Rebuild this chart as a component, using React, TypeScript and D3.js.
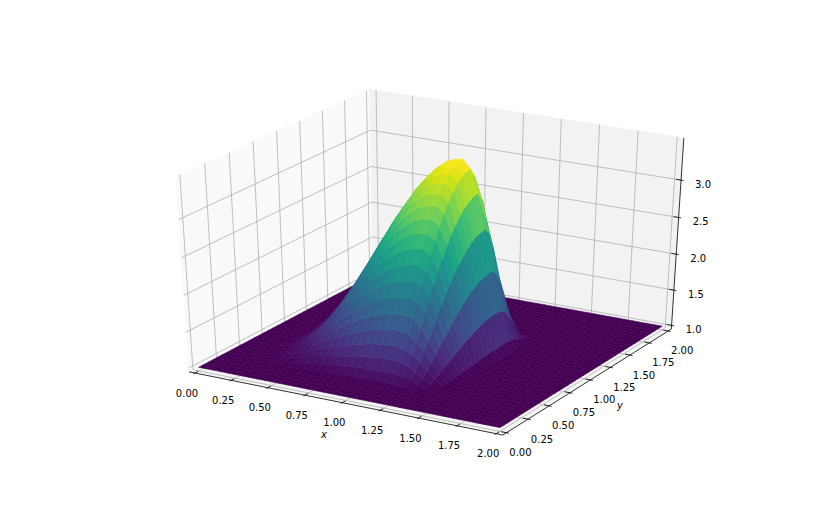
import React from "react";
import * as d3 from "d3";

// axis ticks
const xTicks = [0, 0.25, 0.5, 0.75, 1, 1.25, 1.5, 1.75, 2];
const yTicks = [0, 0.25, 0.5, 0.75, 1, 1.25, 1.5, 1.75, 2];
const zTicks = [1, 1.5, 2, 2.5, 3];

// grid: 41 x 41 nodes over [0,2] x [0,2], dx = dy = 0.05
const gridX = d3.range(41).map((i) => i * 0.05);
const gridY = d3.range(41).map((j) => j * 0.05);
const floorZ = 1;

// heights, x nodes 5..28 (one row per y node 5..28), everything else sits on the floor
const humpFirstNode = 5;
const humpRows = [
  [1.00,1.00,1.01,1.01,1.01,1.02,1.02,1.03,1.03,1.04,1.04,1.05,1.05,1.05,1.06,1.06,1.06,1.06,1.06,1.05,1.04,1.03,1.01,1.00],
  [1.00,1.01,1.02,1.03,1.04,1.05,1.06,1.08,1.09,1.10,1.12,1.13,1.14,1.15,1.16,1.16,1.16,1.17,1.16,1.14,1.11,1.07,1.03,1.01],
  [1.00,1.02,1.03,1.05,1.07,1.09,1.12,1.14,1.17,1.19,1.21,1.23,1.25,1.27,1.28,1.29,1.30,1.30,1.29,1.25,1.19,1.13,1.06,1.01],
  [1.01,1.02,1.05,1.07,1.10,1.14,1.18,1.21,1.25,1.29,1.32,1.36,1.38,1.41,1.43,1.44,1.45,1.45,1.43,1.38,1.29,1.19,1.10,1.02],
  [1.01,1.03,1.06,1.10,1.15,1.19,1.25,1.30,1.35,1.40,1.45,1.49,1.53,1.57,1.59,1.61,1.63,1.63,1.60,1.52,1.41,1.27,1.13,1.03],
  [1.01,1.04,1.08,1.13,1.19,1.25,1.32,1.38,1.45,1.52,1.58,1.64,1.69,1.73,1.77,1.79,1.81,1.81,1.78,1.68,1.53,1.35,1.17,1.03],
  [1.02,1.05,1.10,1.16,1.23,1.31,1.39,1.47,1.56,1.64,1.71,1.78,1.85,1.90,1.94,1.97,1.99,2.00,1.96,1.83,1.65,1.43,1.21,1.04],
  [1.02,1.06,1.12,1.19,1.27,1.37,1.46,1.56,1.66,1.76,1.85,1.93,2.01,2.07,2.12,2.16,2.18,2.19,2.14,1.99,1.77,1.51,1.25,1.05],
  [1.02,1.07,1.14,1.22,1.32,1.42,1.54,1.65,1.76,1.88,1.98,2.08,2.16,2.24,2.30,2.34,2.37,2.38,2.32,2.15,1.89,1.59,1.29,1.06],
  [1.02,1.08,1.16,1.25,1.36,1.48,1.61,1.74,1.87,1.99,2.11,2.22,2.32,2.40,2.47,2.52,2.55,2.56,2.49,2.30,2.01,1.67,1.33,1.07],
  [1.03,1.09,1.17,1.28,1.40,1.53,1.67,1.82,1.96,2.10,2.23,2.36,2.46,2.56,2.63,2.69,2.72,2.73,2.66,2.44,2.12,1.74,1.37,1.07],
  [1.03,1.10,1.19,1.30,1.44,1.58,1.74,1.89,2.05,2.20,2.35,2.48,2.60,2.70,2.78,2.84,2.88,2.89,2.81,2.58,2.23,1.81,1.40,1.08],
  [1.03,1.10,1.20,1.33,1.47,1.63,1.79,1.96,2.13,2.30,2.45,2.60,2.72,2.83,2.92,2.99,3.02,3.04,2.95,2.70,2.32,1.87,1.43,1.09],
  [1.03,1.11,1.22,1.35,1.50,1.67,1.84,2.02,2.20,2.38,2.54,2.69,2.83,2.95,3.04,3.11,3.15,3.16,3.07,2.80,2.40,1.93,1.46,1.09],
  [1.04,1.12,1.23,1.37,1.52,1.70,1.88,2.07,2.26,2.44,2.62,2.78,2.92,3.04,3.14,3.21,3.26,3.27,3.17,2.89,2.47,1.97,1.48,1.10],
  [1.04,1.12,1.24,1.38,1.54,1.73,1.92,2.11,2.31,2.50,2.68,2.84,2.99,3.12,3.22,3.29,3.34,3.36,3.25,2.96,2.53,2.01,1.50,1.10],
  [1.04,1.12,1.24,1.39,1.56,1.74,1.94,2.14,2.34,2.54,2.72,2.89,3.05,3.18,3.28,3.36,3.40,3.42,3.31,3.01,2.57,2.03,1.51,1.10],
  [1.04,1.13,1.25,1.40,1.57,1.76,1.96,2.16,2.36,2.56,2.75,2.92,3.08,3.21,3.32,3.39,3.44,3.46,3.35,3.05,2.59,2.05,1.52,1.11],
  [1.04,1.13,1.25,1.40,1.57,1.76,1.96,2.17,2.37,2.57,2.76,2.93,3.09,3.22,3.33,3.41,3.45,3.47,3.36,3.06,2.60,2.06,1.52,1.11],
  [1.04,1.12,1.23,1.38,1.54,1.72,1.91,2.11,2.30,2.49,2.67,2.84,2.98,3.11,3.21,3.28,3.33,3.34,3.24,2.95,2.52,2.00,1.50,1.10],
  [1.03,1.10,1.20,1.32,1.46,1.61,1.77,1.94,2.11,2.27,2.42,2.56,2.68,2.79,2.88,2.94,2.98,2.99,2.91,2.66,2.29,1.85,1.42,1.09],
  [1.02,1.07,1.15,1.24,1.34,1.45,1.57,1.69,1.82,1.93,2.05,2.15,2.24,2.32,2.38,2.43,2.46,2.47,2.41,2.22,1.95,1.63,1.31,1.06],
  [1.01,1.04,1.09,1.14,1.20,1.27,1.34,1.41,1.49,1.56,1.62,1.68,1.74,1.79,1.82,1.85,1.87,1.87,1.84,1.73,1.57,1.37,1.19,1.04],
  [1.01,1.02,1.03,1.05,1.08,1.10,1.13,1.15,1.18,1.21,1.23,1.26,1.28,1.29,1.31,1.32,1.32,1.33,1.31,1.27,1.21,1.14,1.07,1.01],
];

const zAt = (i: number, j: number) =>
  humpRows[j - humpFirstNode]?.[i - humpFirstNode] ?? floorZ;

// data -> unit box
const xNorm = d3.scaleLinear().domain([0, 2]).range([0, 1]);
const yNorm = d3.scaleLinear().domain([0, 2]).range([0, 1]);
const zNorm = d3.scaleLinear().domain([1, 3.5]).range([0, 1]);

// projected view coords -> pixels
const pxX = d3.scaleLinear().domain([-0.095, 0.09]).range([103.7, 747]);
const pxY = d3.scaleLinear().domain([-0.095, 0.09]).range([459.3, 63.4]);

// elev 30, azim -60, dist 10
const dist = 10;
const n = [0.433013, -0.75, 0.5];
const u = [0.866025, 0.5, 0];
const v = [-0.25, 0.433013, 0.866025];
const dot = (a: number[], b: number[]) => a[0] * b[0] + a[1] * b[1] + a[2] * b[2];

type P = [number, number, number];

// takes unit box coordinates
function project(p: P) {
  const c = [p[0] - 0.5, p[1] - 0.5, p[2] - 0.5];
  const w = dist - dot(n, c);
  return {
    x: pxX(dot(u, c) / w),
    y: pxY(dot(v, c) / w),
    depth: -dist / w,
  };
}

const lo = -1 / 48;
const hi = 49 / 48;
const tickIn = 0.2 / 12;
const tickOut = 0.1 / 12;

const path = (pts: P[], close = false) =>
  pts
    .map(project)
    .map((q, i) => `${i ? "L" : "M"}${q.x.toFixed(2)},${q.y.toFixed(2)}`)
    .join("") + (close ? "Z" : "");

const rawCells = d3.range(40).flatMap((j) =>
  d3.range(40).map((i) => {
    const corners: [number, number][] = [
      [i, j],
      [i + 1, j],
      [i + 1, j + 1],
      [i, j + 1],
    ];
    const pts = corners.map(
      ([a, b]) => [xNorm(gridX[a]), yNorm(gridY[b]), zNorm(zAt(a, b))] as P,
    );
    const avgZ = d3.mean(corners, ([a, b]) => zAt(a, b)) as number;
    const depth = d3.mean(pts, (p) => project(p).depth) as number;
    return { key: `${i}-${j}`, d: path(pts, true), avgZ, depth };
  }),
);

// colours run over the cell averages, as plot_surface does
const color = d3
  .scaleSequential(d3.interpolateViridis)
  .domain(d3.extent(rawCells, (c) => c.avgZ) as [number, number]);
const sortedCells = d3.sort(rawCells, (a, b) => b.depth - a.depth);

const fmt2 = d3.format(".2f");
const fmt1 = d3.format(".1f");
const labelStyle = { fontFamily: "DejaVu Sans", fontSize: 10, fill: "#000" };

export default function App() {
  return (
    <svg
      width={830}
      height={529}
      style={{ position: "absolute", left: 0, top: 0, background: "#fff" }}
    >
      {/* panes */}
      <path d={path([[lo, lo, lo], [lo, hi, lo], [lo, hi, hi], [lo, lo, hi]], true)} fill="#f9f9f9" stroke="#f9f9f9" strokeWidth={0.8} />
      <path d={path([[lo, hi, lo], [hi, hi, lo], [hi, hi, hi], [lo, hi, hi]], true)} fill="#f2f2f2" stroke="#f2f2f2" strokeWidth={0.8} />
      <path d={path([[lo, lo, lo], [hi, lo, lo], [hi, hi, lo], [lo, hi, lo]], true)} fill="#f5f5f5" stroke="#f5f5f5" strokeWidth={0.8} />

      {/* grid */}
      <g fill="none" stroke="#b0b0b0" strokeWidth={0.8}>
        {xTicks.map((t) => {
          const x = xNorm(t);
          return <path key={`gx${t}`} d={path([[x, lo, lo], [x, hi, lo], [x, hi, hi]])} />;
        })}
        {yTicks.map((t) => {
          const y = yNorm(t);
          return <path key={`gy${t}`} d={path([[hi, y, lo], [lo, y, lo], [lo, y, hi]])} />;
        })}
        {zTicks.map((t) => {
          const z = zNorm(t);
          return <path key={`gz${t}`} d={path([[lo, lo, z], [lo, hi, z], [hi, hi, z]])} />;
        })}
      </g>

      {/* axis lines and ticks */}
      <g fill="none" stroke="#000" strokeWidth={0.8}>
        <path d={path([[lo, lo, lo], [hi, lo, lo]])} />
        <path d={path([[hi, lo, lo], [hi, hi, lo]])} />
        <path d={path([[hi, hi, lo], [hi, hi, hi]])} />
        {xTicks.map((t) => {
          const x = xNorm(t);
          return <path key={`tx${t}`} d={path([[x, lo - tickOut, lo], [x, lo + tickIn, lo]])} />;
        })}
        {yTicks.map((t) => {
          const y = yNorm(t);
          return <path key={`ty${t}`} d={path([[hi + tickOut, y, lo], [hi - tickIn, y, lo]])} />;
        })}
        {zTicks.map((t) => {
          const z = zNorm(t);
          return <path key={`tz${t}`} d={path([[hi + tickOut, hi, z], [hi - tickIn, hi, z]])} />;
        })}
      </g>

      {/* tick labels */}
      <g textAnchor="middle" dominantBaseline="central" style={labelStyle}>
        {xTicks.map((t) => {
          const q = project([xNorm(t), lo, lo]);
          return <text key={`lx${t}`} x={q.x - 8} y={q.y + 20}>{fmt2(t)}</text>;
        })}
        {yTicks.map((t) => {
          const q = project([hi, yNorm(t), lo]);
          return <text key={`ly${t}`} x={q.x + 14} y={q.y + 20}>{fmt2(t)}</text>;
        })}
        {zTicks.map((t) => {
          const q = project([hi, hi, zNorm(t)]);
          return <text key={`lz${t}`} x={q.x + 22} y={q.y + 4}>{fmt1(t)}</text>;
        })}
        <text x={324} y={434} fontStyle="italic">x</text>
        <text x={620} y={405} fontStyle="italic">y</text>
      </g>

      {/* surface */}
      <g>
        {sortedCells.map((c) => (
          <path key={c.key} d={c.d} fill={color(c.avgZ)} stroke={color(c.avgZ)} strokeWidth={0.6} />
        ))}
      </g>
    </svg>
  );
}
